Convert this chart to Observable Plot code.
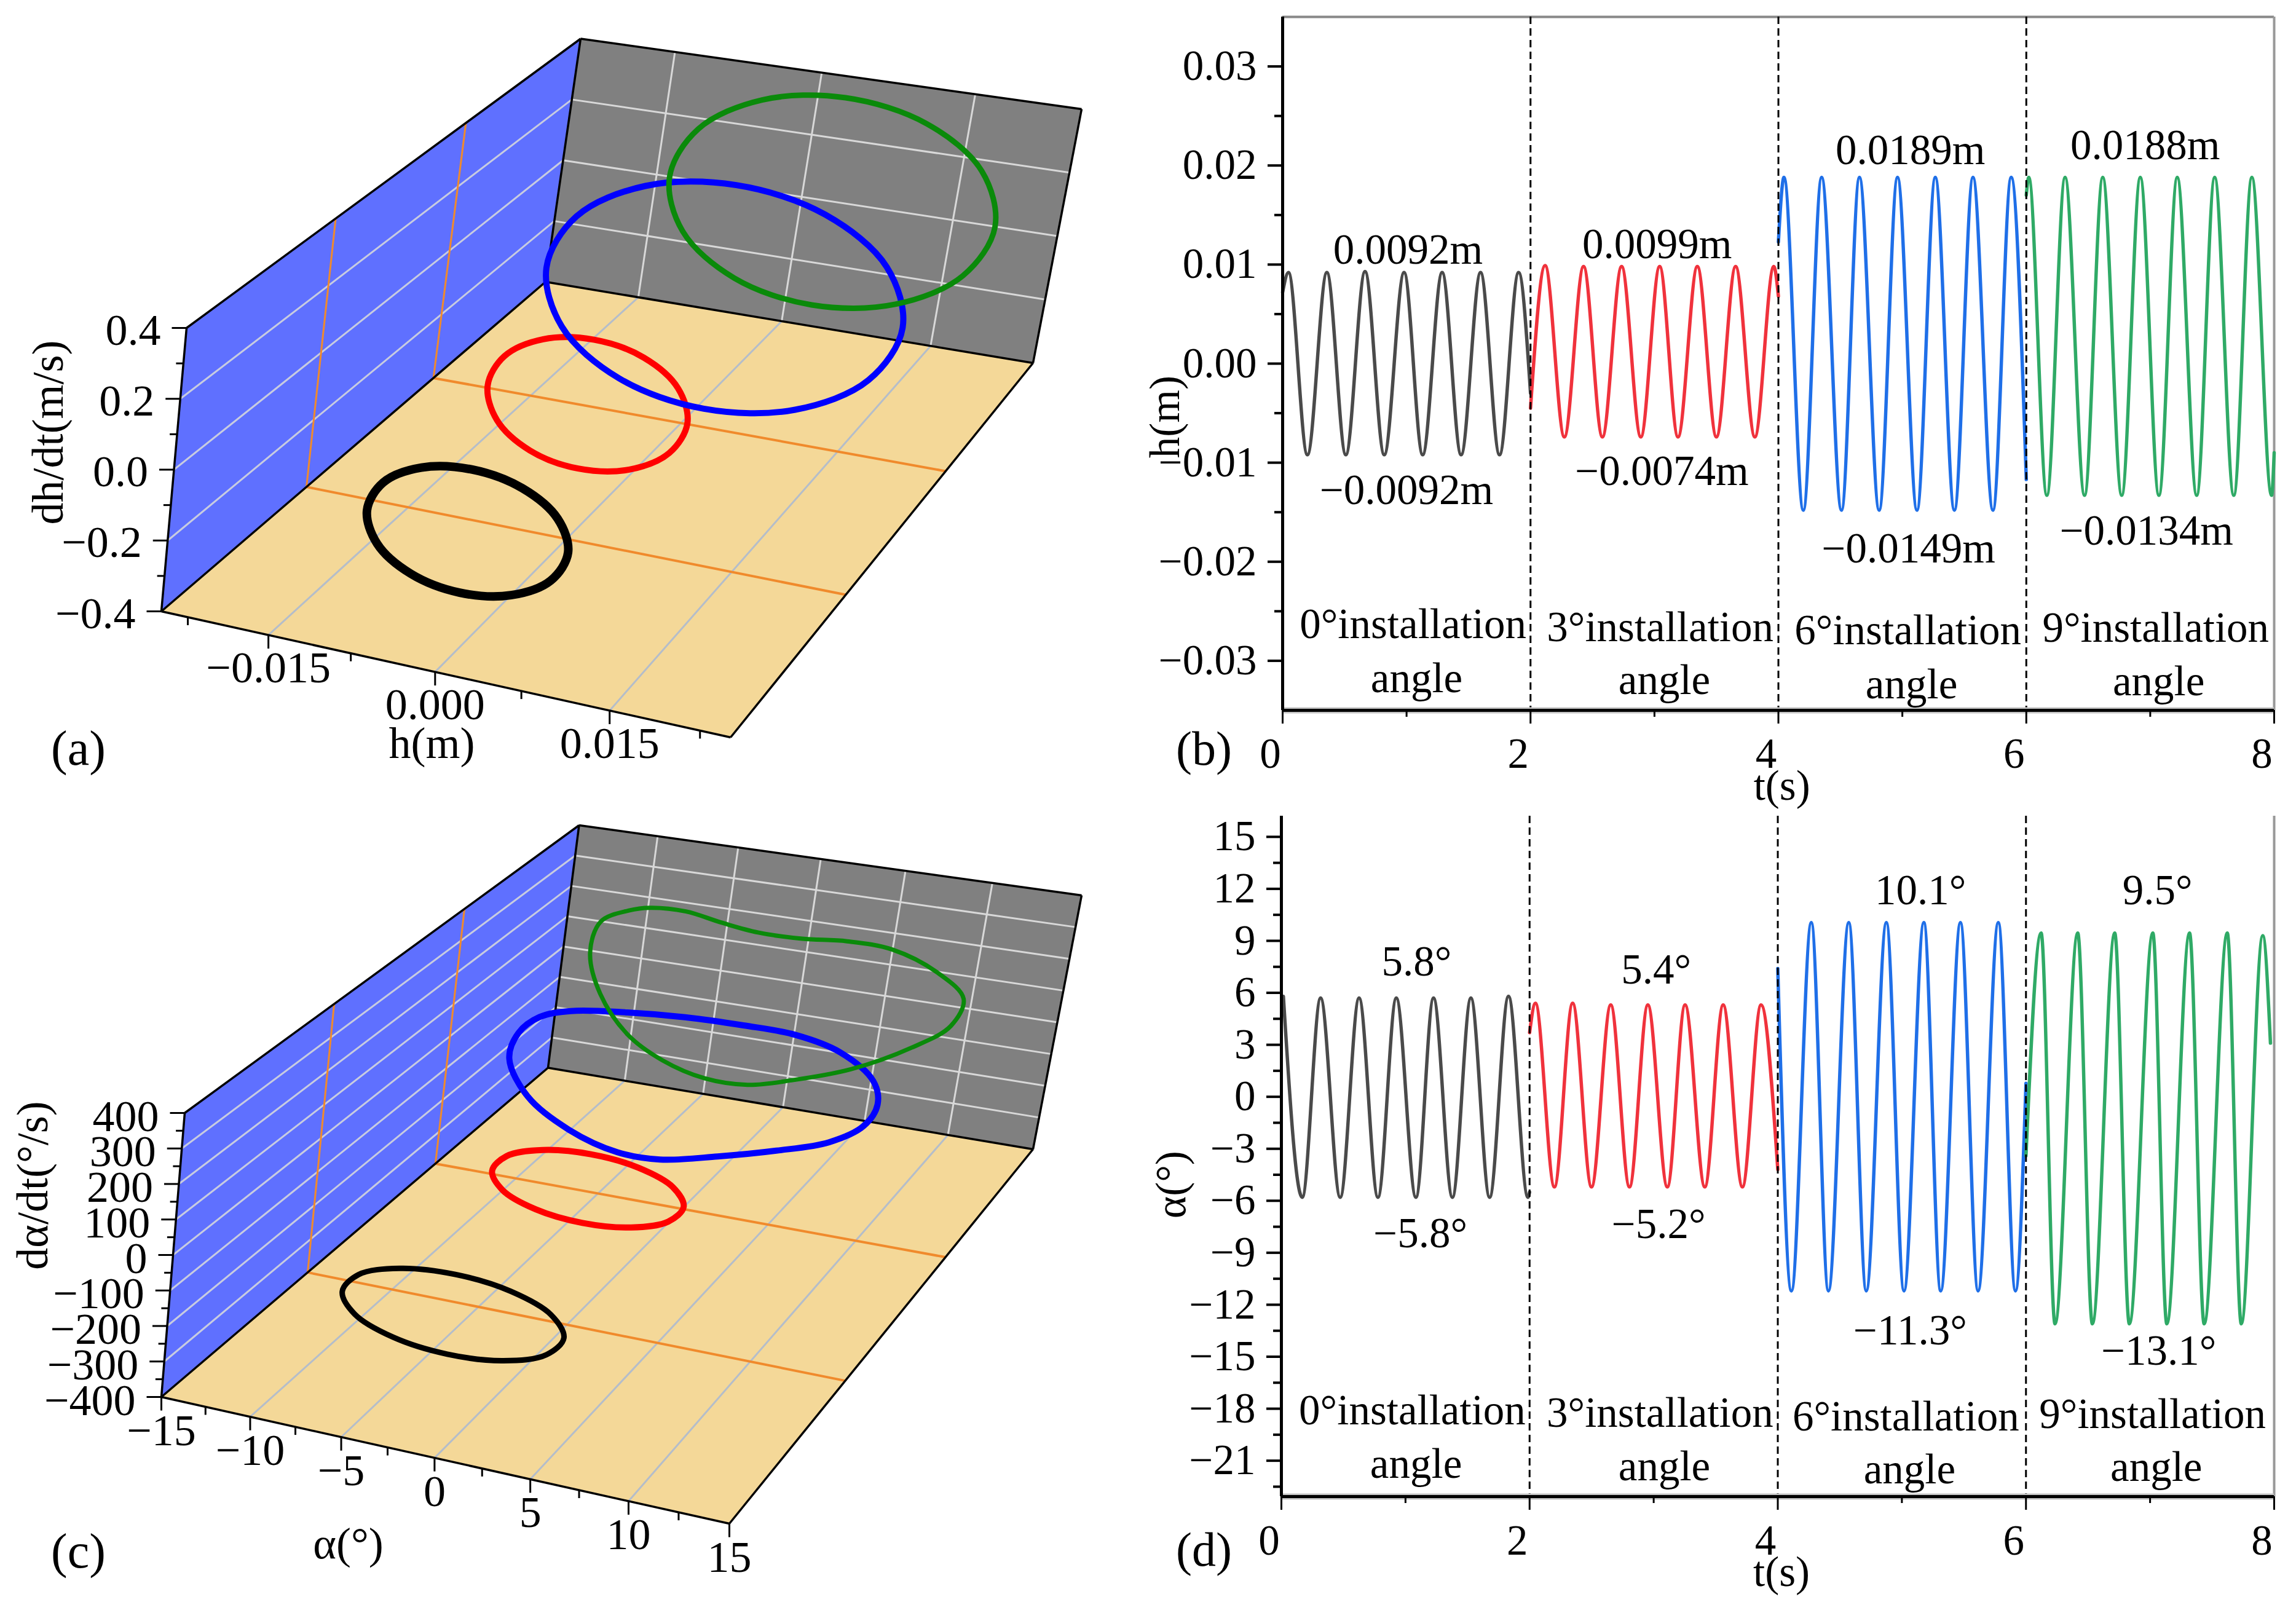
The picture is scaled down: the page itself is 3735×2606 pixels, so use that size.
<!DOCTYPE html>
<html><head><meta charset="utf-8">
<script src="https://cdn.jsdelivr.net/npm/d3@7"></script>
<script src="https://cdn.jsdelivr.net/npm/@observablehq/plot@0.6"></script>
<style>
html,body{margin:0;padding:0;background:#fff}
#page{position:relative;width:3735px;height:2606px;overflow:hidden;background:#fff}
#page svg{position:absolute;max-width:none;overflow:visible}
</style></head><body><div id="page"></div>
<script>
// ---------- phase portraits: panel (a)  h (m) vs dh/dt (m/s)
const aBlackH=[.01011,.00894,.00576,.00141,-.00294,-.00612,-.00729,-.00612,-.00294,.00141,.00576,.00894];
const aBlackZ=[-.001,.084,.1462,.169,.1462,.084,-.001,-.086,-.1482,-.171,-.1482,-.086];
const aRedH=[.00941,.00818,.00484,.00026,-.00432,-.00766,-.00889,-.00766,-.00432,.00026,.00484,.00818];
const aRedZ=[-.005,.089,.1578,.183,.1578,.089,-.005,-.099,-.1678,-.193,-.1678,-.099];
const aBlueH=[.01904,.01675,.01051,.00197,-.00657,-.01281,-.0151,-.01281,-.00657,.00197,.01051,.01675];
const aBlueZ=[-.0024,.1689,.2943,.3402,.2943,.1689,-.0024,-.1737,-.2991,-.345,-.2991,-.1737];
const aGreenH=[.01907,.01688,.0109,.00272,-.00546,-.01144,-.01363,-.01144,-.00546,.00272,.0109,.01688];
const aGreenZ=[-.001,.1653,.287,.3316,.287,.1653,-.001,-.1673,-.289,-.3336,-.289,-.1673];
// ---------- phase portraits: panel (c)  alpha (deg) vs d(alpha)/dt (deg/s)
const cBlackH=[5.885,5.115,3,.115,-2.77,-4.885,-5.655,-4.885,-2.77,.115,3,5.115];
const cBlackZ=[-2.5,52.5,92.8,107.5,92.8,52.5,-2.5,-57.5,-97.8,-112.5,-97.8,-57.5];
const cRedH=[5.44,4.735,2.81,.18,-2.45,-4.375,-5.08,-4.375,-2.45,.18,2.81,4.735];
const cRedZ=[-1.5,48.5,85.1,98.5,85.1,48.5,-1.5,-51.5,-88.1,-101.5,-88.1,-51.5];
const cBlueH=[-11.25,-10.88,-9.74,-7.94,-4.63,-1.31,2.03,4.96,7.54,9.57,10.0,9.44,7.69,4.86,1.62,-1.65,-4.16,-7.18,-9.85];
const cBlueZ=[-38,46,105,139,163,177,181,178,148,79,12,-58,-124,-176,-224,-264,-265,-223,-145];
const cGreenH=[-13.26,-12.84,-11.17,-9.86,-7.63,-5.35,-3.07,-.38,2.28,4.98,7.79,9.53,9.07,7.04,3.69,.26,-2.35,-5.03,-7.8,-10.2,-12.28];
const cGreenZ=[-6.5,99,148,167,172,153,139,140,153,148,97,28,-62,-148,-246,-311,-348,-350,-315,-251,-134];
// ---------- time histories: panel (b)  extrema of h(t)
const bBlackT=[0,.047,.20,.357,.51,.665,.82,.98,1.13,1.287,1.44,1.597,1.75,1.904,2.0];
const bBlackV=[.0072,.0092,-.0092,.0092,-.0092,.0093,-.0092,.0092,-.0092,.0092,-.0092,.0092,-.0092,.0092,-.0030];
const bRedT=[2.0,2.118,2.273,2.428,2.58,2.735,2.89,3.042,3.19,3.346,3.50,3.655,3.81,3.963,4.0];
const bRedV=[-.0045,.0099,-.0074,.0098,-.0074,.0098,-.0074,.0098,-.0074,.0098,-.0074,.0098,-.0074,.0098,.0068];
const bBlueT=[4.0,4.045,4.201,4.349,4.509,4.654,4.813,4.961,5.118,5.266,5.42,5.57,5.731,5.878,6.0];
const bBlueV=[.0123,.0188,-.0148,.0188,-.0148,.0188,-.0148,.0188,-.0148,.0188,-.0148,.0188,-.0148,.0188,-.0117];
const bGreenT=[6.0,6.02,6.166,6.313,6.47,6.617,6.77,6.92,7.07,7.218,7.375,7.52,7.674,7.82,7.979,8.0];
const bGreenV=[.0170,.0188,-.0133,.0188,-.0133,.0188,-.0133,.0188,-.0133,.0188,-.0133,.0188,-.0133,.0188,-.0133,-.0090];
// ---------- time histories: panel (d)  extrema of alpha(t)
const dBlackT=[.016,.168,.316,.474,.626,.778,.926,1.084,1.226,1.378,1.527,1.678,1.83,1.987,2.0];
const dBlackV=[5.8,-5.8,5.7,-5.8,5.7,-5.8,5.7,-5.8,5.7,-5.8,5.7,-5.8,5.8,-5.8,-5.5];
const dRedT=[2.0,2.047,2.2,2.347,2.499,2.654,2.805,2.953,3.11,3.253,3.412,3.56,3.715,3.865,4.0];
const dRedV=[3.7,5.4,-5.2,5.4,-5.2,5.3,-5.2,5.3,-5.2,5.3,-5.2,5.3,-5.2,5.3,-4.2];
const dBlueT=[4.0,4.11,4.27,4.408,4.572,4.713,4.875,5.017,5.177,5.313,5.472,5.614,5.777,5.915,6.0];
const dBlueV=[7.4,-11.2,10.05,-11.2,10.05,-11.2,10.05,-11.2,10.05,-11.2,10.05,-11.2,10.05,-11.2,.78];
const dGreenT=[6.0,6.122,6.234,6.417,6.535,6.715,6.833,7.022,7.135,7.318,7.436,7.622,7.735,7.908,7.97];
const dGreenV=[-3.4,9.45,-13.1,9.45,-13.1,9.45,-13.1,9.45,-13.1,9.45,-13.1,9.45,-13.1,9.3,3.1];

const FONT="'Liberation Serif'", FS=69;
const page=document.getElementById("page");
const rows=(a,b)=>a.map((x,i)=>({x,y:b[i]}));
const minus=s=>String(s).replace("-","\u2212");
function place(svg,left,top){svg.style.left=left+"px";svg.style.top=top+"px";page.appendChild(svg);}

// ---------- perspective view of the (h, t, z) box
function squareToQuad(p0,p1,p2,p3){
  const sx=p0[0]-p1[0]+p2[0]-p3[0], sy=p0[1]-p1[1]+p2[1]-p3[1];
  const dx1=p1[0]-p2[0],dx2=p3[0]-p2[0],dy1=p1[1]-p2[1],dy2=p3[1]-p2[1];
  const den=dx1*dy2-dx2*dy1;
  const g=(sx*dy2-dx2*sy)/den,h=(dx1*sy-sx*dy1)/den;
  const a=p1[0]-p0[0]+g*p1[0],b=p3[0]-p0[0]+h*p3[0],c=p0[0];
  const d=p1[1]-p0[1]+g*p1[1],e=p3[1]-p0[1]+h*p3[1],f=p0[1];
  return (u,v)=>{const w=g*u+h*v+1;return [(a*u+b*v+c)/w,(d*u+e*v+f)/w];};
}
function box3D(c){
  const {A,B,C,D,E,F,G,H}=c.view;
  const floor=squareToQuad(A,B,D,C), roof=squareToQuad(E,F,H,G);
  const [h0,h1]=c.hDomain,[z0,z1]=c.zDomain,tMax=6;
  const P=(h,t,z)=>{
    const u=(h-h0)/(h1-h0),v=t/tMax,w=(z-z0)/(z1-z0);
    const a=floor(u,v),b=roof(u,v);
    return [a[0]+(b[0]-a[0])*w,a[1]+(b[1]-a[1])*w];
  };
  const poly=(pts,fill)=>Plot.line(pts,{x:d=>d[0],y:d=>d[1],fill,stroke:"none",curve:"linear-closed"});
  const segs=(list,o)=>Plot.link(list,{x1:d=>d[0][0],y1:d=>d[0][1],x2:d=>d[1][0],y2:d=>d[1][1],...o});
  const label=(list,o)=>Plot.text(list,{x:d=>d[0],y:d=>d[1],text:d=>d[2],...o});
  const gridFloor=c.hGrid.map(h=>[P(h,0,z0),P(h,tMax,z0)]);
  const gridBackV=c.hGrid.map(h=>[P(h,tMax,z0),P(h,tMax,z1)]);
  const gridBackH=c.zGrid.map(z=>[P(h0,tMax,z),P(h1,tMax,z)]);
  const gridSide=c.zGrid.map(z=>[P(h0,0,z),P(h0,tMax,z)]);
  const orangeFloor=[2,4].map(t=>[P(h0,t,z0),P(h1,t,z0)]);
  const orangeSide=[2,4].map(t=>[P(h0,t,z0),P(h0,t,z1)]);
  const frame=[[A,B],[B,D],[D,C],[C,A],[A,E],[E,G],[G,C],[G,H],[H,D]];
  const tick=(list,dx,dy)=>list.map(p=>[p,[p[0]+dx,p[1]+dy]]);
  const hMajorPts=c.hLabels.map(h=>P(h,0,z0)), hMinorPts=c.hMinor.map(h=>P(h,0,z0));
  const zMajorPts=c.zLabels.map(z=>P(h0,0,z)), zMinorPts=c.zMinor.map(z=>P(h0,0,z));
  return Plot.plot({
    width:c.w,height:c.yMax-c.yMin,margin:0,
    x:{domain:[0,c.w],range:[0,c.w],axis:null},
    y:{domain:[c.yMin,c.yMax],range:[0,c.yMax-c.yMin],axis:null},
    style:{fontFamily:FONT,fontSize:"72px",background:"transparent"},
    marks:[
      poly([A,E,G,C],"#5f70ff"),
      poly([C,G,H,D],"#808080"),
      poly([A,B,D,C],"#f4d898"),
      segs(gridFloor,{stroke:"#b4bdca",strokeWidth:3}),
      segs(gridBackV,{stroke:"#d8d8d8",strokeWidth:3}),
      segs(gridBackH,{stroke:"#d8d8d8",strokeWidth:3}),
      segs(gridSide,{stroke:"#c8cce0",strokeWidth:3}),
      segs(orangeFloor,{stroke:"#f08a2c",strokeWidth:4}),
      segs(orangeSide,{stroke:"#f08a2c",strokeWidth:3}),
      segs(frame,{stroke:"#000",strokeWidth:3.5}),
      segs(tick(hMajorPts,0,22),{stroke:"#000",strokeWidth:3}),
      segs(tick(hMinorPts,0,13),{stroke:"#000",strokeWidth:3}),
      segs(tick(zMajorPts,-24,0),{stroke:"#000",strokeWidth:3}),
      segs(tick(zMinorPts,-12,0),{stroke:"#000",strokeWidth:3}),
      ...c.loops.map(l=>Plot.line(l.h.map((h,i)=>P(h,l.t,l.z[i])),{x:d=>d[0],y:d=>d[1],stroke:l.color,strokeWidth:l.width,curve:"catmull-rom-closed"})),
      label(c.hLabels.map((h,i)=>{const p=P(h,0,z0);return [p[0]+(c.hTextDx||0),p[1]+c.hTextDy,minus(c.hText[i])];}),{lineAnchor:"middle"}),
      label(c.zLabels.map((z,i)=>{const p=P(h0,0,z);return [p[0]-42,p[1]+c.zTextDy,minus(c.zText[i])];}),{lineAnchor:"middle",textAnchor:"end"}),
      label([c.hTitle],{lineAnchor:"middle"}),
      label([c.zTitle],{lineAnchor:"middle",rotate:-90}),
      label([c.tag],{lineAnchor:"middle",fontSize:80})
    ]
  });
}
const loops=(hs,zs,widths)=>[0,2,4,6].map((t,i)=>({t,h:hs[i],z:zs[i],color:["#000","#f00","#00f","#0a8a0a"][i],width:widths[i]}));
place(box3D({
  w:1850,yMin:0,yMax:1290,hDomain:[-.025,.025],zDomain:[-.4,.4],
  view:{A:[262,994],B:[1188,1199],C:[887,458],D:[1680,590],E:[303,533],F:[1251,720],G:[944,62.5],H:[1759,177]},
  hGrid:[-.015,0,.015],zGrid:[-.2,0,.2],
  hLabels:[-.015,0,.015],hText:["-0.015","0.000","0.015"],hMinor:[-.0225,-.0075,.0075,.0225],hTextDy:54,
  zLabels:[.4,.2,0,-.2,-.4],zText:["0.4","0.2","0.0","-0.2","-0.4"],zMinor:[.3,.1,-.1,-.3],zTextDy:4,
  hTitle:[702,1209,"h(m)"],zTitle:[78,703,"dh/dt(m/s)"],tag:[127,1218,"(a)"],
  loops:loops([aBlackH,aRedH,aBlueH,aGreenH],[aBlackZ,aRedZ,aBlueZ,aGreenZ],[14,10,10,9])
}),0,0);
place(box3D({
  w:1850,yMin:1290,yMax:2606,hDomain:[-15,15],zDomain:[-400,400],
  view:{A:[262,2272],B:[1186,2478],C:[891,1736.5],D:[1680,1869],E:[300,1810],F:[1252.5,1997.5],G:[941.5,1342],H:[1759,1456]},
  hGrid:[-10,-5,0,5,10],zGrid:[-300,-200,-100,0,100,200,300],
  hLabels:[-15,-10,-5,0,5,10,15],hText:["-15","-10","-5","0","5","10","15"],hMinor:[-12.5,-7.5,-2.5,2.5,7.5,12.5],hTextDy:55,
  zLabels:[400,300,200,100,0,-100,-200,-300,-400],zText:["400","300","200","100","0","-100","-200","-300","-400"],
  zMinor:[350,250,150,50,-50,-150,-250,-350],zTextDy:6,
  hTitle:[566,2511,"\u03b1(\u00b0)"],zTitle:[53,1928,"d\u03b1/dt(\u00b0/s)"],tag:[127,2524,"(c)"],
  loops:loops([cBlackH,cRedH,cBlueH,cGreenH],[cBlackZ,cRedZ,cBlueZ,cGreenZ],[9,10,10,7])
}),0,1290);

// ---------- time history panels
const lineColors=["#4a4a4a","#f0323c","#1f6fe8","#2faa66"];
function tsPanel(c){
  const series=c.series.map(([t,v],i)=>Plot.line(rows(t,v),{x:"x",y:"y",stroke:lineColors[i],strokeWidth:5.5,curve:"monotone-x"}));
  const txt=(list,o={})=>Plot.text(list,{x:d=>d[1],y:d=>d[2],text:d=>d[0],lineAnchor:"bottom",...o});
  return Plot.plot({
    width:c.width,height:c.height,
    marginLeft:c.marginLeft,marginRight:c.marginRight,marginTop:c.marginTop,marginBottom:c.marginBottom,
    x:{domain:[0,8],label:null},
    y:{domain:c.yDomain,label:null},
    style:{fontFamily:FONT,fontSize:FS+"px",background:"transparent"},
    marks:[
      c.topLine?Plot.ruleY([c.yDomain[1]],{stroke:"#888",strokeWidth:4}):null,
      Plot.ruleX([8],{stroke:"#999",strokeWidth:4}),
      ...series,
      Plot.ruleX([2,4,6],{stroke:"#000",strokeWidth:3,strokeDasharray:"12,7"}),
      Plot.ruleY([c.yDomain[0]],{stroke:"#c4c4c4",strokeWidth:10}),
      Plot.ruleY([c.yDomain[0]],{stroke:"#000",strokeWidth:5}),
      Plot.ruleX([0],{stroke:"#000",strokeWidth:5}),
      Plot.axisX([0,2,4,6,8],{tickSize:22,text:null,label:null,strokeWidth:3}),
      Plot.axisX([1,3,5,7],{tickSize:11,text:null,label:null,strokeWidth:3}),
      Plot.axisX([0,2,4,6,8],{tickSize:0,tickPadding:c.xPad,dx:-20,label:null,tickFormat:d=>String(d)}),
      Plot.axisY(c.yTicks,{tickSize:24,tickPadding:18,label:null,strokeWidth:4,tickFormat:c.yFormat}),
      Plot.axisY(c.yMinor,{tickSize:13,text:null,label:null,strokeWidth:4}),
      txt(c.notes),
      txt([c.yTitle],{lineAnchor:"middle",rotate:-90}),
      txt([c.xTitle]),txt([c.tag],{fontSize:78})
    ]
  });
}
const fixed2=d=>minus(d.toFixed(2));
const plain=d=>minus(d);
place(tsPanel({
  width:1935,height:1320,marginLeft:286,marginRight:36,marginTop:27,marginBottom:165,xPad:44,
  yDomain:[-.035,.035],topLine:true,
  yTicks:[-.03,-.02,-.01,0,.01,.02,.03],yMinor:[-.025,-.015,-.005,.005,.015,.025],yFormat:fixed2,
  series:[[bBlackT,bBlackV],[bRedT,bRedV],[bBlueT,bBlueV],[bGreenT,bGreenV]],
  notes:[["0.0092m",1.012,.01009],["0.0099m",3.021,.01064],["0.0189m",5.065,.02014],["0.0188m",6.959,.02063],
    ["\u22120.0092m",1.0,-.01417],["\u22120.0074m",3.06,-.01225],["\u22120.0149m",5.05,-.02006],["\u22120.0134m",6.97,-.01826],
    ["0\u00b0installation",1.052,-.02769],["angle",1.081,-.03315],["3\u00b0installation",3.046,-.028],["angle",3.08,-.03334],
    ["6\u00b0installation",5.045,-.02831],["angle",5.074,-.03377],["9\u00b0installation",7.044,-.02806],["angle",7.068,-.03345]],
  yTitle:["h(m)",-.945,-.00538],xTitle:["t(s)",4.028,-.044],tag:["(b)",-.635,-.04047]
}),1800,0);
place(tsPanel({
  width:1935,height:1306,marginLeft:284,marginRight:36,marginTop:27,marginBottom:172,xPad:45,
  yDomain:[-23.07,16.2],topLine:false,
  yTicks:[-21,-18,-15,-12,-9,-6,-3,0,3,6,9,12,15],
  yMinor:[-22.5,-19.5,-16.5,-13.5,-10.5,-7.5,-4.5,-1.5,1.5,4.5,7.5,10.5,13.5],yFormat:plain,
  series:[[dBlackT,dBlackV],[dRedT,dRedV],[dBlueT,dBlueV],[dGreenT,dGreenV]],
  notes:[["5.8\u00b0",1.09,6.99],["5.4\u00b0",3.02,6.53],["10.1\u00b0",5.15,11.12],["9.5\u00b0",7.06,11.1],
    ["\u22125.8\u00b0",1.12,-8.69],["\u22125.2\u00b0",3.04,-8.14],["\u221211.3\u00b0",5.067,-14.3],["\u221213.1\u00b0",7.07,-15.47],
    ["0\u00b0installation",1.055,-18.91],["angle",1.085,-21.99],["3\u00b0installation",3.051,-19.05],["angle",3.086,-22.14],
    ["6\u00b0installation",5.032,-19.26],["angle",5.062,-22.31],["9\u00b0installation",7.02,-19.12],["angle",7.05,-22.17]],
  yTitle:["\u03b1(\u00b0)",-.887,-5.07],xTitle:["t(s)",4.03,-28.24],tag:["(d)",-.624,-27.07]
}),1800,1300);
</script></body></html>
